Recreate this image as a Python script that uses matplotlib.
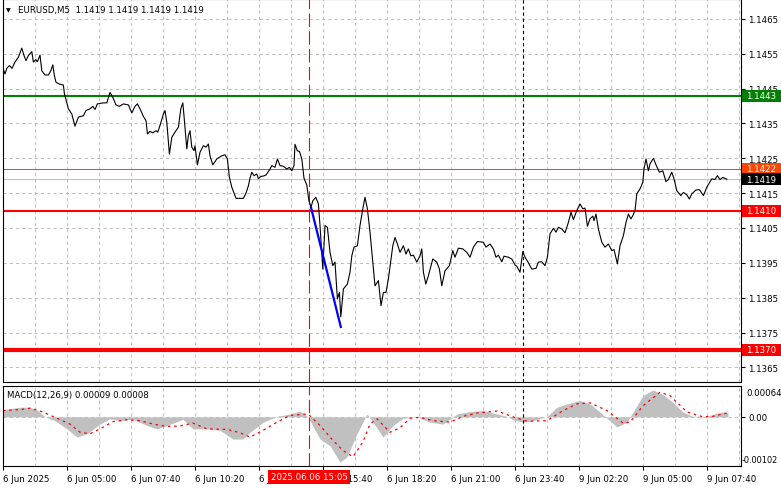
import matplotlib
matplotlib.use("Agg")
import matplotlib.pyplot as plt
from matplotlib.patches import Rectangle
from matplotlib.transforms import blended_transform_factory

# EURUSD M5 close prices, vertices (bar index, price)
bar = [0.0, 1.0, 1.9, 3.2, 4.5, 6.0, 7.7, 9.4, 10.5, 11.5, 12.7, 14.4, 15.2, 16.4, 17.2, 18.5,
       19.4, 21.0, 22.7, 23.9, 24.9, 25.7, 26.5, 28.2, 30.2, 30.7, 32.7, 34.4, 36.0, 37.7, 40.2,
       41.5, 43.5, 44.9, 46.0, 47.2, 50.2, 51.9, 53.5, 54.9, 56.5, 58.2, 60.2, 62.7, 64.4, 66.0,
       67.2, 68.5, 70.2, 71.5, 72.2, 73.5, 74.9, 76.5, 77.4, 78.5, 80.2, 81.0, 81.9, 83.2, 84.4,
       86.0, 87.7, 88.9, 89.9, 90.5, 91.9, 92.7, 93.5, 94.4, 95.5, 96.0, 97.2, 98.5, 100.2, 101.5,
       102.7, 103.5, 104.9, 106.9, 109.4, 111.0, 112.2, 113.2, 114.4, 116.5, 120.2, 121.5, 122.7,
       123.5, 124.4, 125.5, 126.9, 127.7, 128.9, 130.2, 131.5, 133.5, 134.4, 136.0, 137.2, 138.5,
       140.2, 141.9, 143.2, 144.4, 145.5, 146.0, 147.2, 148.2, 149.4, 150.5, 151.9, 152.9, 154.0,
       154.9, 156.4, 157.7, 158.5, 159.9, 161.0, 162.2, 163.5, 164.9, 166.0, 167.2, 168.2, 168.9,
       170.2, 172.2, 173.5, 174.4, 175.5, 177.2, 178.5, 179.9, 181.0, 182.2, 183.5, 184.9, 186.0,
       187.7, 189.0, 190.2, 191.5, 192.7, 193.9, 194.9, 196.0, 197.2, 198.5, 200.2, 201.5, 202.7,
       203.9, 205.2, 206.9, 208.5, 209.4, 210.2, 211.4, 212.7, 214.9, 216.9, 218.2, 219.4, 221.0,
       223.2, 224.9, 226.0, 227.7, 229.9, 231.9, 233.5, 235.2, 237.2, 240.2, 241.5, 243.5, 245.2,
       246.5, 247.7, 249.4, 250.5, 252.7, 254.4, 256.0, 256.9, 258.5, 259.9, 261.0, 262.7, 264.4,
       266.5, 267.7, 269.4, 271.0, 272.2, 273.5, 275.2, 276.5, 277.7, 279.4, 281.0, 282.7, 284.0,
       285.2, 286.9, 288.5, 289.9, 291.0, 292.2, 293.5, 294.9, 295.5, 296.5, 297.7, 299.4, 301.0,
       302.7, 304.4, 305.5, 307.2, 308.5, 310.2, 311.5, 312.7, 313.9, 314.9, 316.0, 316.9, 318.5,
       319.9, 320.5, 321.5, 322.7, 323.5, 325.2, 326.5, 328.2, 329.9, 331.5, 332.7, 334.4, 335.5,
       336.9, 338.9, 340.2, 341.9, 343.2, 344.4, 346.5, 348.2, 350.2, 351.9, 354.4, 356.0, 357.2,
       358.5, 359.9, 361.9]
price = [1.14508, 1.14492, 1.14508, 1.14516, 1.14508, 1.14526, 1.14540, 1.14566, 1.14545, 1.14530,
         1.14545, 1.14556, 1.14526, 1.14533, 1.14527, 1.14546, 1.14501, 1.14489, 1.14489, 1.14501,
         1.14518, 1.14487, 1.14468, 1.14463, 1.14460, 1.14435, 1.14392, 1.14377, 1.14342, 1.14368,
         1.14372, 1.14387, 1.14392, 1.14399, 1.14390, 1.14406, 1.14409, 1.14409, 1.14439, 1.14425,
         1.14403, 1.14399, 1.14406, 1.14403, 1.14380, 1.14399, 1.14406, 1.14392, 1.14370, 1.14358,
         1.14320, 1.14327, 1.14323, 1.14329, 1.14325, 1.14344, 1.14377, 1.14387, 1.14353, 1.14262,
         1.14310, 1.14325, 1.14339, 1.14392, 1.14409, 1.14372, 1.14277, 1.14315, 1.14329, 1.14282,
         1.14272, 1.14286, 1.14231, 1.14267, 1.14286, 1.14282, 1.14291, 1.14257, 1.14231, 1.14248,
         1.14257, 1.14260, 1.14248, 1.14195, 1.14167, 1.14135, 1.14135, 1.14150, 1.14171, 1.14193,
         1.14210, 1.14200, 1.14205, 1.14191, 1.14198, 1.14199, 1.14202, 1.14219, 1.14229, 1.14224,
         1.14248, 1.14229, 1.14227, 1.14219, 1.14224, 1.14214, 1.14229, 1.14290, 1.14271, 1.14270,
         1.14248, 1.14193, 1.14173, 1.14130, 1.14109, 1.14128, 1.14138, 1.14119, 1.14057, 1.13932,
         1.14057, 1.14052, 1.13980, 1.13942, 1.13952, 1.13846, 1.13865, 1.13795, 1.13875, 1.13889,
         1.13923, 1.13970, 1.13995, 1.13999, 1.14057, 1.14105, 1.14138, 1.14105, 1.14038, 1.13952,
         1.13884, 1.13899, 1.13827, 1.13865, 1.13865, 1.13904, 1.13956, 1.13999, 1.14023, 1.14004,
         1.13980, 1.13999, 1.13975, 1.13990, 1.13970, 1.13972, 1.13952, 1.13970, 1.13990, 1.13923,
         1.13889, 1.13913, 1.13961, 1.13952, 1.13932, 1.13884, 1.13927, 1.13942, 1.13985, 1.13966,
         1.13992, 1.13990, 1.13980, 1.13966, 1.13995, 1.14011, 1.14009, 1.13995, 1.14004, 1.13990,
         1.13966, 1.13972, 1.13953, 1.13969, 1.13966, 1.13961, 1.13944, 1.13940, 1.13923, 1.13982,
         1.13966, 1.13950, 1.13932, 1.13934, 1.13952, 1.13953, 1.13942, 1.13966, 1.14033, 1.14049,
         1.14038, 1.14052, 1.14047, 1.14036, 1.14066, 1.14095, 1.14074, 1.14100, 1.14119, 1.14105,
         1.14107, 1.14055, 1.14076, 1.14084, 1.14071, 1.14090, 1.14047, 1.14009, 1.13995, 1.14004,
         1.13985, 1.13988, 1.13947, 1.13999, 1.14028, 1.14066, 1.14090, 1.14076, 1.14085, 1.14100,
         1.14148, 1.14162, 1.14181, 1.14219, 1.14248, 1.14214, 1.14234, 1.14250, 1.14231, 1.14210,
         1.14214, 1.14183, 1.14189, 1.14210, 1.14191, 1.14157, 1.14143, 1.14152, 1.14145, 1.14133,
         1.14148, 1.14159, 1.14160, 1.14143, 1.14167, 1.14191, 1.14189, 1.14200, 1.14189, 1.14195,
         1.14190]

# MACD(12,26,9) main histogram and signal line
hist_bar = [0, 8.5, 13.5, 17.5, 21, 26, 32, 37, 42, 48.5, 53.5, 58.5, 65, 72, 77, 82, 90, 95, 102,
            108.5, 115, 120, 123.5, 130, 137, 143.5, 148.5, 152.5, 158.5, 163.5, 168.5, 172, 177,
            182, 185, 190, 195, 200, 207, 213.5, 220, 227, 233.5, 240, 247, 252, 255, 260, 265, 272,
            277, 282, 288.5, 293.5, 298.5, 302, 307, 312, 315, 320, 325, 330, 335, 340, 345, 352,
            357, 360, 362.5]
hist = [0.00015, 0.00020, 0.00020, 0.00013, 0.0, -0.00008, -0.00025, -0.00042, -0.00035, -0.00015,
        -0.00004, -0.00008, -0.00005, -0.00018, -0.00025, -0.00018, -0.00005, -0.00025, -0.00025,
        -0.00028, -0.00046, -0.00046, -0.00032, -0.00011, 0.00001, 0.00006, 0.00012, 0.0, -0.00046,
        -0.00060, -0.00094, -0.00083, -0.00035, 0.00006, -0.00011, -0.00042, -0.00018, -0.00003,
        0.0, -0.00011, -0.00015, 0.00006, 0.00011, 0.00013, 0.00006, 0.00001, -0.00006, -0.00011,
        -0.00008, 0.00001, 0.00020, 0.00027, 0.00034, 0.00027, 0.00010, -0.00003, -0.00021,
        -0.00011, 0.00010, 0.00044, 0.00056, 0.00046, 0.00030, 0.00010, 0.00001, 0.00001, 0.00008,
        0.00010, 0.00009]
sig_bar = [0, 8.5, 13.5, 20, 27, 33.5, 38.5, 43.5, 48.5, 55, 62, 68.5, 75, 82, 88.5, 95, 102, 112,
           118.5, 123.5, 130, 137, 143.5, 152.5, 158.5, 165, 170, 175, 180, 183.5, 187, 193.5,
           198.5, 203.5, 208.5, 215, 223.5, 230, 237, 247, 255, 262, 272, 280, 287, 293.5, 302, 310,
           313.5, 320, 328.5, 333.5, 342, 350, 355, 362]
signal = [0.00013, 0.00015, 0.00018, 0.00010, -0.00003, -0.00015, -0.00032, -0.00035, -0.00025,
          -0.00010, -0.00006, -0.00008, -0.00015, -0.00020, -0.00019, -0.00013, -0.00025, -0.00026,
          -0.00033, -0.00042, -0.00028, -0.00011, 0.00003, 0.00006, -0.00018, -0.00049, -0.00070,
          -0.00083, -0.00052, -0.00015, -0.00004, -0.00032, -0.00023, -0.00003, -0.00001, -0.00008,
          -0.00011, 0.00001, 0.00008, 0.00012, 0.0, -0.00009, -0.00008, 0.00013, 0.00027, 0.00029,
          0.00013, -0.00013, -0.00011, 0.00023, 0.00051, 0.00044, 0.00010, 0.0, 0.00001, 0.00008]

# horizontal levels and their right-hand labels
levels = [1.1443, 1.1410, 1.1370]
level_colors = ["#008000", "#ff0000", "#ff0000"]
level_widths = [1.5, 1.5, 3.0]
ask, bid = 1.1422, 1.1419

# blue trend line drawn on the drop
trend_bar = [154.0, 168.9]
trend_price = [1.14109, 1.13766]

price_ticks = [1.1465, 1.1455, 1.1445, 1.1435, 1.1425, 1.1415, 1.1405, 1.1395, 1.1385, 1.1375, 1.1365]
time_bars = [0, 32, 64, 96, 128, 160, 192, 224, 256, 288, 320, 352]
time_labels = ["6 Jun 2025", "6 Jun 05:00", "6 Jun 07:40", "6 Jun 10:20", "6 Jun 13:00",
               "6 Jun 15:40", "6 Jun 18:20", "6 Jun 21:00", "6 Jun 23:40", "9 Jun 02:20",
               "9 Jun 05:00", "9 Jun 07:40"]
cursor_bar, cursor_label = 153, "2025.06.06 15:05"
separator_bar = 260

W, H = 781, 489
FS = 6.2
GRID = "#c0c0c0"

fig = plt.figure(figsize=(W / 100, H / 100), dpi=100)
ax = fig.add_axes([3 / W, 1 - 383 / H, 738 / W, 383 / H])
ax2 = fig.add_axes([3 / W, 1 - 467 / H, 738 / W, 80 / H])

for a in (ax, ax2):
    a.set_xlim(0, 369)
    for s in a.spines.values():
        s.set_color("black")
        s.set_linewidth(0.8)
    for b in range(16, 369, 16):
        a.axvline(b, color=GRID, lw=0.75, ls=(0, (3, 3)), zorder=0)
    a.axvline(cursor_bar, color="#ff0000", lw=0.8, ls=(0, (12, 4)), zorder=3)
    a.axvline(separator_bar, color="black", lw=0.8, ls=(0, (3, 2.5)), zorder=3)

# --- price panel ---
ax.set_ylim(1.13608, 1.14707)
for p in price_ticks:
    ax.axhline(p, color=GRID, lw=0.75, ls=(0, (3, 3)), zorder=0)

ax.axhline(ask, color="#ff4500", lw=0.75, zorder=1)
ax.axhline(bid, color="#c0c0c0", lw=0.75, zorder=1)
for lv, c, w in zip(levels, level_colors, level_widths):
    ax.axhline(lv, color=c, lw=w, zorder=2)

ax.plot(bar, price, color="black", lw=0.8, zorder=4)
ax.plot(trend_bar, trend_price, color="#0000ff", lw=1.6, zorder=5)

ax.set_xticks([])
ax.yaxis.tick_right()
ax.set_yticks(price_ticks)
ax.set_yticklabels([f"{p:.4f}" for p in price_ticks])
ax.tick_params(axis="y", length=3, width=0.8, pad=2, labelsize=FS)

# coloured price tags on the right scale
tr = blended_transform_factory(fig.transFigure, ax.transData)
tag_h = 12 / 34850
tags = [(levels[0], "#008000", f"{levels[0]:.4f}"), (ask, "#ff4500", f"{ask:.4f}"),
        (bid, "black", f"{bid:.4f}"), (levels[1], "#ff0000", f"{levels[1]:.4f}"),
        (levels[2], "#ff0000", f"{levels[2]:.4f}")]
for y, c, t in tags:
    ax.add_patch(Rectangle((742 / W, y - tag_h / 2), 39 / W, tag_h, transform=tr,
                           facecolor=c, edgecolor="none", clip_on=False, zorder=10))
    ax.text(746.5 / W, y, t, transform=tr, color="white", fontsize=FS, va="center",
            ha="left", clip_on=False, zorder=11)

fig.text(6 / W, 1 - 11 / H, "▼", fontsize=4.5, va="center", ha="left")
fig.text(18 / W, 1 - 11 / H, "EURUSD,M5  1.1419 1.1419 1.1419 1.1419", fontsize=FS,
         va="center", ha="left")

# --- MACD panel ---
ax2.set_ylim(-0.00102, 0.00064)
ax2.axhline(0, color=GRID, lw=0.75, ls=(0, (3, 3)), zorder=0)
ax2.fill_between(hist_bar, 0, hist, color="#c0c0c0", lw=0, zorder=1)
ax2.plot(sig_bar, signal, color="#ff0000", lw=0.9, ls=(0, (2, 3)), zorder=2)

ax2.yaxis.tick_right()
ax2.set_yticks([0])
ax2.set_yticklabels(["0.00"])
ax2.tick_params(axis="y", length=3, width=0.8, pad=2, labelsize=FS)
ax2.annotate("0.00064", xy=(1, 1), xycoords="axes fraction", xytext=(5, -7),
             textcoords="offset pixels", fontsize=FS, va="center", ha="left")
ax2.annotate("-0.00102", xy=(1, 0), xycoords="axes fraction", xytext=(1, 6),
             textcoords="offset pixels", fontsize=5.9, va="center", ha="left")
fig.text(7 / W, 1 - 396 / H, "MACD(12,26,9) 0.00009 0.00008", fontsize=FS, va="center", ha="left")

ax2.set_xticks(time_bars)
ax2.set_xticklabels(time_labels)
for lab in ax2.get_xticklabels():
    lab.set_ha("left")
ax2.tick_params(axis="x", length=3, width=0.8, pad=3, labelsize=FS)

ax2.annotate(cursor_label, xy=(cursor_bar, 0), xycoords=("data", "axes fraction"),
             xytext=(0, -11), textcoords="offset pixels", fontsize=FS, color="white",
             ha="center", va="center", zorder=12, annotation_clip=False,
             bbox=dict(boxstyle="square,pad=0.25", facecolor="#ff0000", edgecolor="none"))

fig.savefig("out.png", dpi=100)
